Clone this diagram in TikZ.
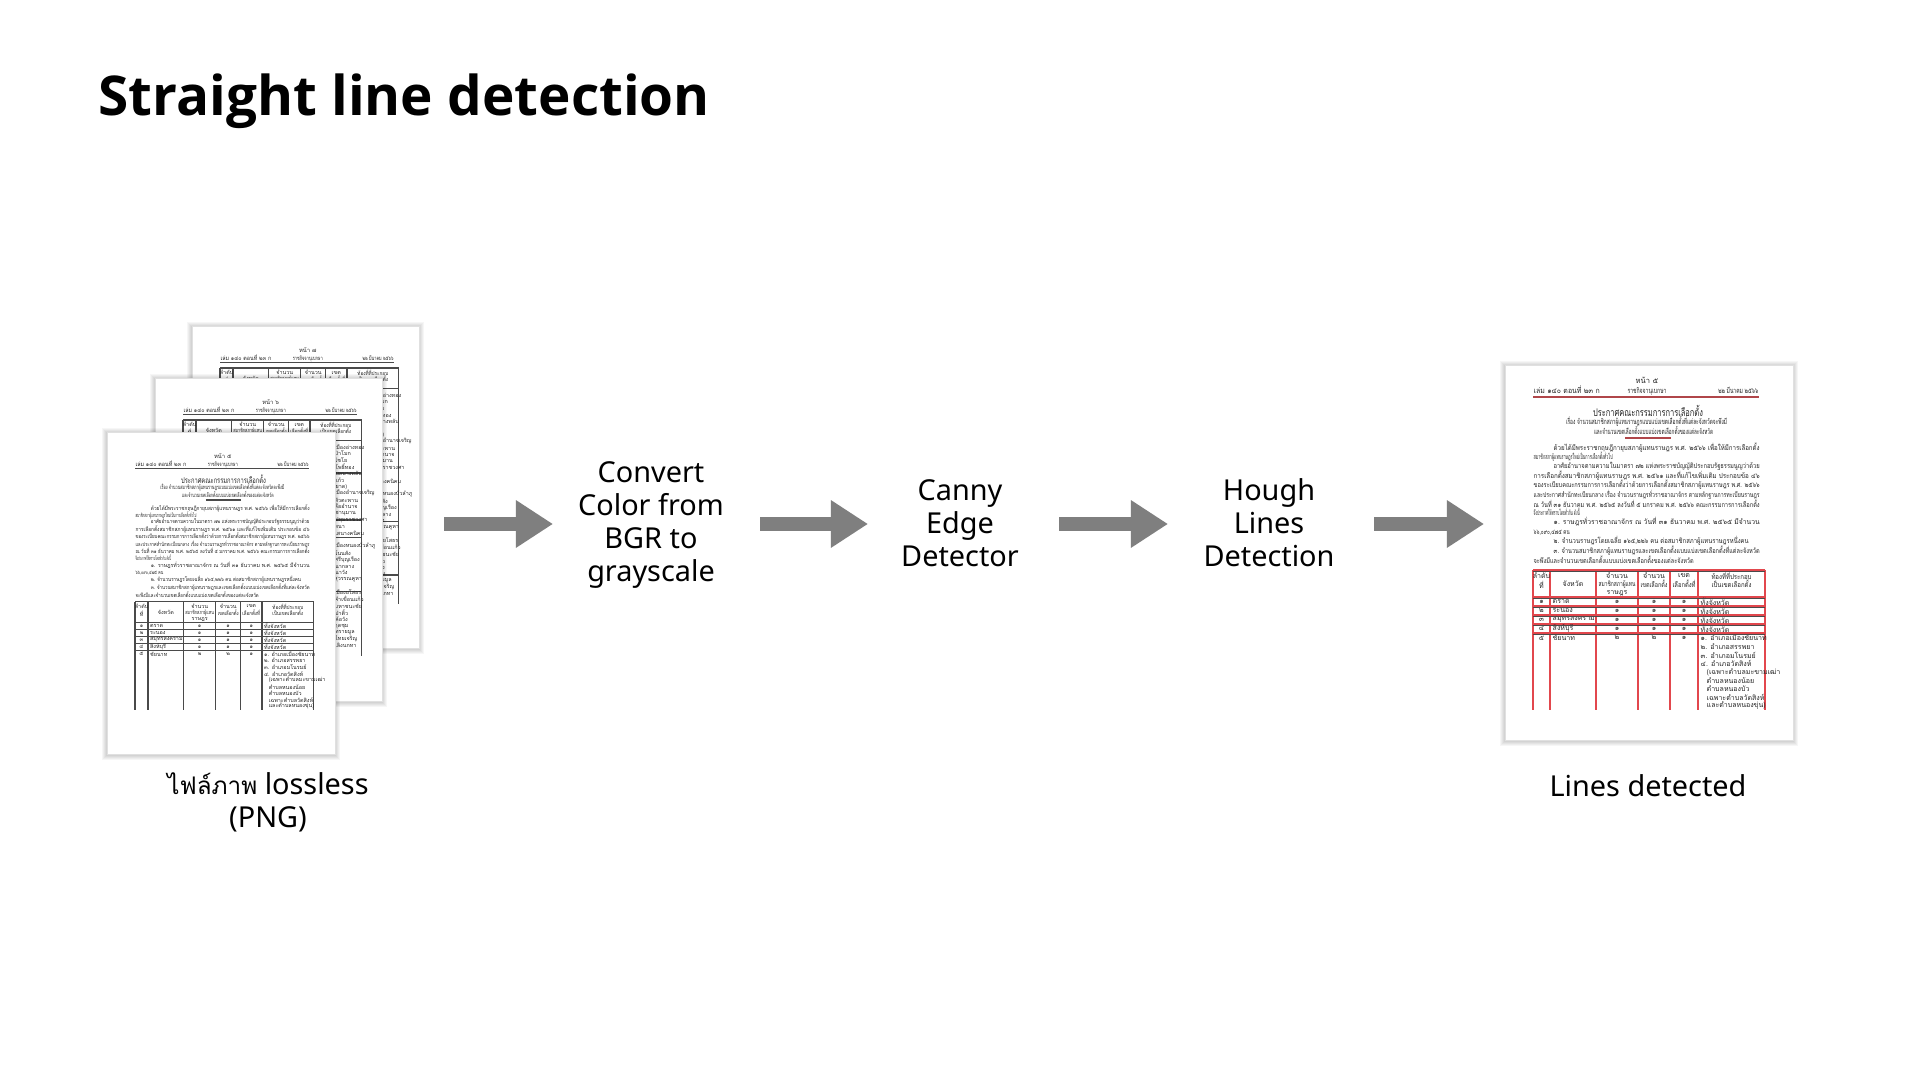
\documentclass[tikz,border=0pt]{standalone}
\usepackage{fontspec}
\usepackage{graphicx}
\setmainfont{Noto Sans}
\newfontfamily\titlefont{Open Sans}
\newfontfamily\thaifont[Script=Thai]{Loma}
\usetikzlibrary{arrows.meta}
\newdimen\px \px=0.01cm
\definecolor{arrowgray}{HTML}{7F7F7F}
\definecolor{hitred}{HTML}{E2474D}
\definecolor{rulered}{HTML}{B0464A}
\definecolor{doctext}{HTML}{262626}
\definecolor{docline}{HTML}{4A4A4A}
\newcommand\fitw[2]{\resizebox{#1\px}{\height}{#2}}

\tikzset{
  lbl/.style={align=center, inner sep=0pt, font=\fontsize{8.2pt}{9.4pt}\selectfont},
  blockarrow/.style={draw=arrowgray, line width=0.14cm, -{Triangle[length=0.37cm, width=0.45cm]}},
  dt/.style={inner sep=0pt, text=doctext, font=\thaifont\fontsize{2.15pt}{2.5pt}\selectfont},
  bt/.style={dt, font=\thaifont\fontsize{2.0pt}{2.3pt}\selectfont},
  dth/.style={dt, font=\thaifont\fontsize{3.0pt}{3.4pt}\selectfont},
  tt/.style={dt, font=\thaifont\fontsize{2.0pt}{2.3pt}\selectfont},
  docrule/.style={line width=0.35pt},
  pageborder/.style={draw=black!12, line width=0.25pt, fill=white},
}

% page frame with soft shadow: x0 y0 x1 y1
\newcommand\pageframe[4]{%
  \foreach \k in {1,...,5}{\fill[black, opacity=0.035] ({#1-\k},{#2-\k+1.5}) rectangle ({#3+\k},{#4+\k+1});}
  \draw[pageborder] (#1,#2) rectangle (#3,#4);
}

% running header of a gazette page
\newcommand\dochead[2]{% #1 page number, #2 rule colour
  \node[dt, anchor=base] at (114,2) {หน้า #1};
  \node[dt, anchor=base west] at (0,12) {\fitw{66}{เล่ม ๑๔๐ ตอนที่ ๒๓ ก}};
  \node[dt, anchor=base] at (114,12) {\fitw{39}{ราชกิจจานุเบกษา}};
  \node[dt, anchor=base east] at (226,12) {\fitw{40}{๒๒ มีนาคม ๒๕๖๖}};
  \draw[#2, docrule] (0,15) -- (226,15);
}

% table heading texts, #1 = top y
\newcommand\tablehead[1]{%
  \node[tt] at (8.5,#1+6) {ลำดับ};
  \node[tt] at (8.5,#1+15) {ที่};
  \node[tt] at (40,#1+14) {จังหวัด};
  \node[tt] at (84,#1+6) {จำนวน};
  \node[tt] at (84,#1+14) {\fitw{37}{สมาชิกสภาผู้แทน}};
  \node[tt] at (84,#1+23) {ราษฎร};
  \node[tt] at (121,#1+6) {จำนวน};
  \node[tt] at (121,#1+14) {\fitw{27}{เขตเลือกตั้ง}};
  \node[tt] at (151,#1+6) {เขต};
  \node[tt] at (151,#1+14) {\fitw{23}{เลือกตั้งที่}};
  \node[tt] at (198.5,#1+6) {\fitw{40}{ท้องที่ที่ประกอบ}};
  \node[tt] at (198.5,#1+14) {\fitw{40}{เป็นเขตเลือกตั้ง}};
}

% first page of the announcement
\newcommand\docfront[2]{% #1 rule colour, #2 table colour
  \dochead{๕}{#1}
  \node[dth] at (115,29) {\fitw{110}{ประกาศคณะกรรมการการเลือกตั้ง}};
  \node[dt] at (113.5,39.5) {\fitw{161}{เรื่อง จำนวนสมาชิกสภาผู้แทนราษฎรแบบแบ่งเขตเลือกตั้งที่แต่ละจังหวัดจะพึงมี}};
  \node[dt] at (120.5,48.5) {\fitw{119}{และจำนวนเขตเลือกตั้งแบบแบ่งเขตเลือกตั้งของแต่ละจังหวัด}};
  \draw[#1, docrule] (92,56) -- (138,56);
  \foreach \x/\w/\y/\t in {
     20/206/67/{ด้วยได้มีพระราชกฤษฎีกายุบสภาผู้แทนราษฎร พ.ศ. ๒๕๖๖ เพื่อให้มีการเลือกตั้ง},
     0/79/76/{สมาชิกสภาผู้แทนราษฎรใหม่เป็นการเลือกตั้งทั่วไป},
     20/206/85/{อาศัยอำนาจตามความในมาตรา ๗๒ แห่งพระราชบัญญัติประกอบรัฐธรรมนูญว่าด้วย},
     0/226/94.5/{การเลือกตั้งสมาชิกสภาผู้แทนราษฎร พ.ศ. ๒๕๖๑ และที่แก้ไขเพิ่มเติม ประกอบข้อ ๔๖},
     0/226/104/{ของระเบียบคณะกรรมการการเลือกตั้งว่าด้วยการเลือกตั้งสมาชิกสภาผู้แทนราษฎร พ.ศ. ๒๕๖๖},
     0/226/114/{และประกาศสำนักทะเบียนกลาง เรื่อง จำนวนราษฎรทั่วราชอาณาจักร ตามหลักฐานการทะเบียนราษฎร},
     0/226/123.5/{ณ วันที่ ๓๑ ธันวาคม พ.ศ. ๒๕๖๕ ลงวันที่ ๕ มกราคม พ.ศ. ๒๕๖๖ คณะกรรมการการเลือกตั้ง},
     0/46/132/{จึงประกาศให้ทราบโดยทั่วกัน ดังนี้},
     20/206/141/{๑. ราษฎรทั่วราชอาณาจักร ณ วันที่ ๓๑ ธันวาคม พ.ศ. ๒๕๖๕ มีจำนวน},
     0/36/151/{๖๖,๐๙๐,๔๗๕ คน},
     20/195/160/{๒. จำนวนราษฎรโดยเฉลี่ย ๑๖๕,๒๒๖ คน ต่อสมาชิกสภาผู้แทนราษฎรหนึ่งคน},
     20/206/170/{๓. จำนวนสมาชิกสภาผู้แทนราษฎรและเขตเลือกตั้งแบบแบ่งเขตเลือกตั้งที่แต่ละจังหวัด},
     0/160/180/{จะพึงมีและจำนวนเขตเลือกตั้งแบบแบ่งเขตเลือกตั้งของแต่ละจังหวัด}}
    \node[bt, anchor=base west] at (\x,\y+2) {\fitw{\w}{\t}};
  \foreach \x in {0,17,63,105,137,165,232} \draw[#2, docrule] (\x,188) -- (\x,328);
  \foreach \y in {188,215,224,233,242,251} \draw[#2, docrule] (0,\y) -- (232,\y);
  \tablehead{188}
  \foreach \n/\p/\y in {๑/ตราด/219.5, ๒/ระนอง/228.5, ๓/สมุทรสงคราม/237.5, ๔/สิงห์บุรี/246.5}{
    \node[tt] at (8.5,\y) {\n};
    \node[tt, anchor=west] at (19,\y) {\p};
    \node[tt] at (84,\y) {๑};
    \node[tt] at (121,\y) {๑};
    \node[tt] at (151,\y) {๑};
    \node[tt, anchor=west] at (167,\y) {ทั้งจังหวัด};
  }
  \node[tt] at (8.5,256) {๕};
  \node[tt, anchor=west] at (19,256) {ชัยนาท};
  \node[tt] at (84,256) {๒};
  \node[tt] at (121,256) {๒};
  \node[tt] at (151,256) {๑};
  \foreach \x/\t [count=\i] in {167/{๑. อำเภอเมืองชัยนาท}, 167/{๒. อำเภอสรรพยา}, 167/{๓. อำเภอมโนรมย์},
      167/{๔. อำเภอวัดสิงห์}, 173/{(เฉพาะตำบลมะขามเฒ่า}, 173/{ตำบลหนองน้อย}, 173/{ตำบลหนองบัว},
      173/{เฉพาะตำบลวัดสิงห์}, 173/{และตำบลหนองขุ่น)}}
    \node[tt, anchor=west] at (\x,247.5+\i*8.5) {\t};
}

% continuation pages (table only)
\newcommand\docback[2]{% #1 page number, #2 rows y/no/province
  \dochead{#1}{docline}
  \foreach \x in {0,17,63,105,137,165,232} \draw[docline, docrule] (\x,22) -- (\x,328);
  \draw[docline, docrule] (0,22) -- (232,22);
  \tablehead{22}
  \foreach \y/\n/\p in {#2}{
    \draw[docline, docrule] (0,\y) -- (232,\y);
    \node[tt] at (8.5,\y+8) {\n};
    \node[tt, anchor=west] at (19,\y+8) {\p};
    \node[tt] at (84,\y+8) {๒};
    \node[tt] at (121,\y+8) {๒};
    \node[tt] at (151,\y+8) {๑};
  }
  \foreach \t [count=\i] in {{๑. อำเภอเมืองอ่างทอง}, {๒. อำเภอป่าโมก}, {๓. อำเภอไชโย}, {๔. อำเภอโพธิ์ทอง},
      {(เฉพาะตำบลบางพลับ}, {ตำบลอ่างแก้ว}, {ตำบลคำหยาด)}, {๑. อำเภอเมืองอำนาจเจริญ}, {๒. อำเภอหัวตะพาน},
      {๓. อำเภอลืออำนาจ}, {๔. อำเภอชานุมาน}, {๕. อำเภอปทุมราชวงศา}, {๖. อำเภอพนา}, {๗. อำเภอเสนางคนิคม},
      {ทั้งจังหวัด}, {๑. อำเภอเมืองหนองบัวลำภู}, {๒. อำเภอโนนสัง}, {๓. อำเภอศรีบุญเรือง}, {๔. อำเภอนากลาง},
      {๕. อำเภอนาวัง}, {๖. อำเภอสุวรรณคูหา}, {ทั้งจังหวัด}, {๑. อำเภอเมืองยโสธร}, {๒. อำเภอคำเขื่อนแก้ว},
      {๓. อำเภอมหาชนะชัย}, {๔. อำเภอป่าติ้ว}, {๕. อำเภอค้อวัง}, {๖. อำเภอกุดชุม}, {๗. อำเภอทรายมูล},
      {๘. อำเภอไทยเจริญ}, {๙. อำเภอเลิงนกทา}}
    \node[tt, anchor=west] at (167,48.4+\i*8.6) {\t};
}

\begin{document}
\begin{tikzpicture}[x=0.01cm, y=-0.01cm]
\useasboundingbox (0,0) rectangle (1920,1080);
\fill[white] (0,0) rectangle (1920,1080);

% title
\node[anchor=base west, inner sep=0pt, font=\titlefont\bfseries\fontsize{15.6pt}{19pt}\selectfont] (title) at (98,116) {Straight line detection};

% source document stack
\pageframe{192}{326}{419}{648}
\begin{scope}[shift={(220,351)}, scale=0.77, transform shape]
  \docback{๗}{49/๑๑/แม่ฮ่องสอน, 221/๑๒/มุกดาหาร, 291/๑๓/ลำพูน}
\end{scope}
\pageframe{155}{378}{382}{701}
\begin{scope}[shift={(183,403)}, scale=0.77, transform shape]
  \docback{๖}{49/๖/อ่างทอง, 91/๗/อำนาจเจริญ, 152/๘/หนองบัวลำภู, 175/๙/ยโสธร, 245/๑๐/พังงา}
\end{scope}
\pageframe{107}{432}{335}{754}
\begin{scope}[shift={(135,457)}, scale=0.77, transform shape]
  \docfront{docline}{docline}
\end{scope}

% result document
\pageframe{1505}{365}{1793}{740}
\begin{scope}[shift={(1533,382)}]
  \docfront{rulered}{hitred}
  \foreach \y in {189.2,216.2,225.2,234.2,243.2,252.2} \draw[docline, line width=0.25pt] (0,\y) -- (232,\y);
\end{scope}

% step labels
\node[lbl] (conv) at (651,525) {Convert\\Color from\\BGR to\\grayscale};
\node[lbl] (canny) at (960,523) {Canny\\Edge\\Detector};
\node[lbl] (hough) at (1269,523) {Hough\\Lines\\Detection};
\node[lbl] (src) at (268,802) {{\thaifont\fontsize{6.9pt}{9pt}\selectfont ไฟล์ภาพ} lossless\\(PNG)};
\node[lbl] (dst) at (1648,786) {Lines detected};

% arrows
\coordinate (a1s) at (444,524); \coordinate (a1e) at (553,524);
\coordinate (a2s) at (760,524); \coordinate (a2e) at (868,524);
\coordinate (a3s) at (1059,524); \coordinate (a3e) at (1168,524);
\coordinate (a4s) at (1374,524); \coordinate (a4e) at (1484,524);
\draw[blockarrow] (a1s) -- (a1e);
\draw[blockarrow] (a2s) -- (a2e);
\draw[blockarrow] (a3s) -- (a3e);
\draw[blockarrow] (a4s) -- (a4e);
\end{tikzpicture}
\end{document}
